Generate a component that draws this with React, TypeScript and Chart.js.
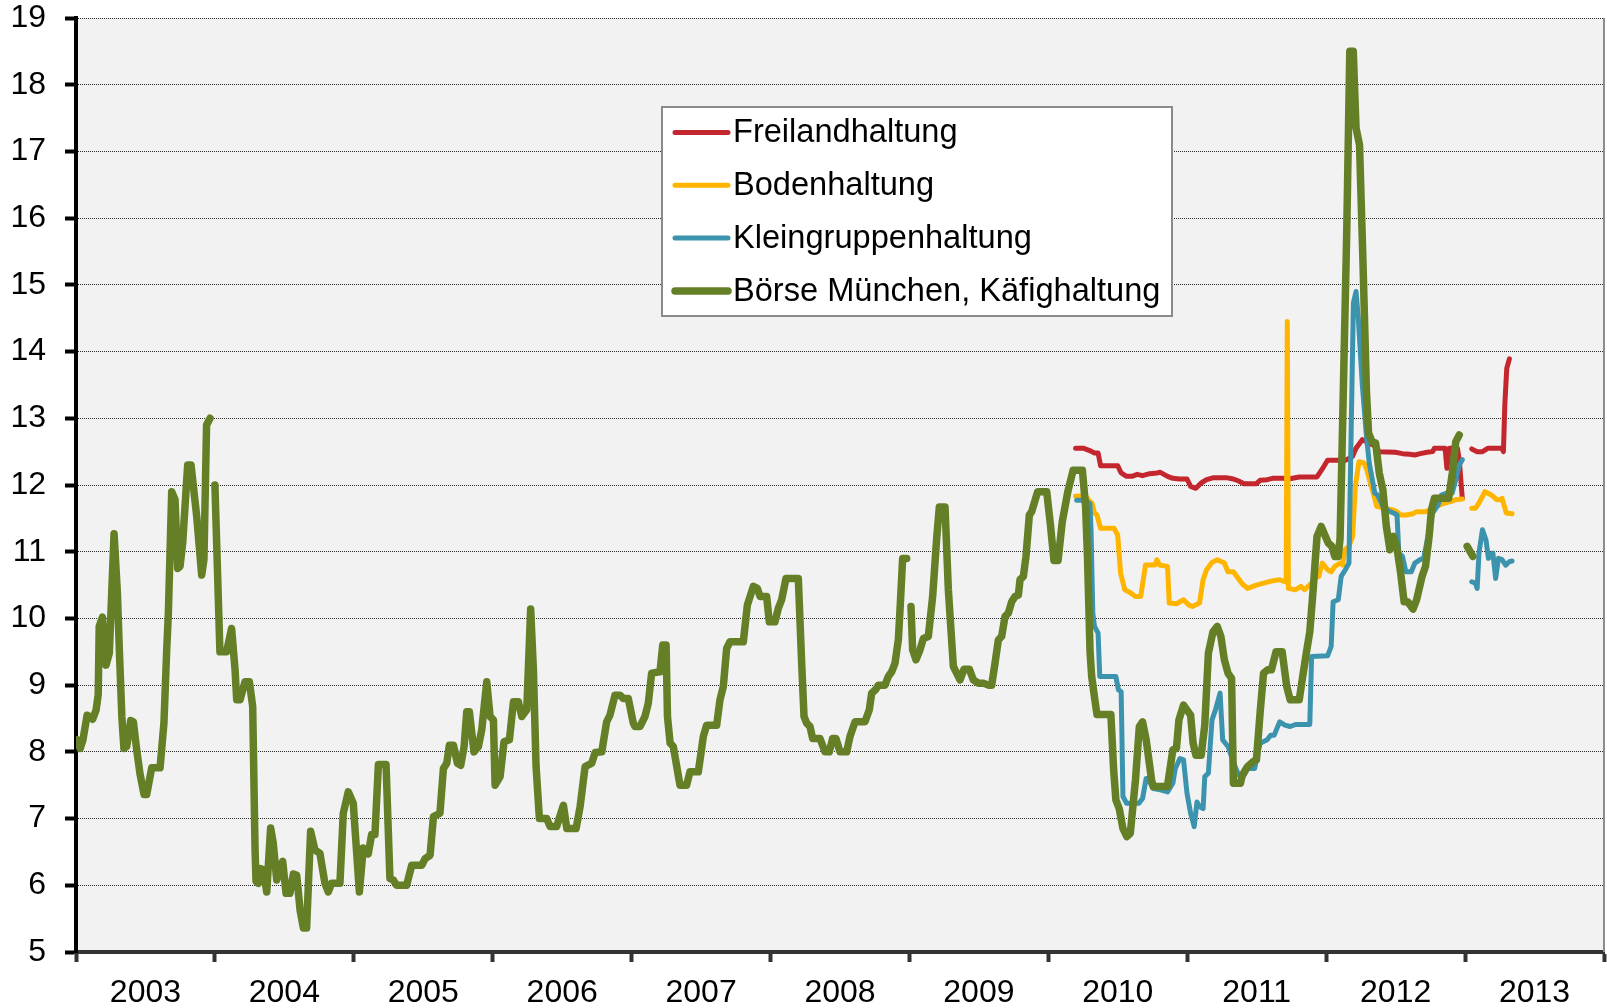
import React, { useEffect, useRef } from 'react';
import { Chart, registerables } from 'chart.js';

Chart.register(...registerables);

// ---------- data (x = fractional year, y = price) ----------
type Pt = [number, number | null];

const SERIES_LABELS = [
  'Freilandhaltung',
  'Bodenhaltung',
  'Kleingruppenhaltung',
  'Börse München, Käfighaltung',
];

const SERIES_COLORS = ['#C4262E', '#FFB400', '#3B93AD', '#657F27'];

const X_MIN = 2003;
const X_MAX = 2014;
const Y_MIN = 5;
const Y_MAX = 19;

const freiland: Pt[] = [
  [2010.196, 12.55], [2010.255, 12.55], [2010.293, 12.52], [2010.332, 12.48], [2010.358, 12.48],
  [2010.376, 12.29], [2010.499, 12.29], [2010.524, 12.18], [2010.563, 12.13], [2010.601, 12.13],
  [2010.64, 12.16], [2010.678, 12.14], [2010.73, 12.17], [2010.781, 12.18], [2010.806, 12.19],
  [2010.858, 12.13], [2010.896, 12.1], [2010.947, 12.09], [2010.998, 12.09], [2011.024, 11.98],
  [2011.062, 11.95], [2011.1, 12.03], [2011.139, 12.08], [2011.19, 12.11], [2011.28, 12.11],
  [2011.332, 12.09], [2011.37, 12.06], [2011.408, 12.02], [2011.498, 12.02], [2011.524, 12.07],
  [2011.575, 12.08], [2011.613, 12.1], [2011.703, 12.1], [2011.729, 12.09], [2011.806, 12.12],
  [2011.934, 12.12], [2011.972, 12.24], [2012.01, 12.37], [2012.138, 12.37], [2012.19, 12.43],
  [2012.215, 12.55], [2012.26, 12.68], [2012.305, 12.63], [2012.356, 12.58], [2012.382, 12.5],
  [2012.497, 12.49], [2012.549, 12.47], [2012.6, 12.46], [2012.638, 12.45], [2012.677, 12.47],
  [2012.727, 12.49], [2012.766, 12.5], [2012.779, 12.55], [2012.856, 12.55], [2012.869, 12.25],
  [2012.887, 12.55], [2012.945, 12.55], [2012.958, 12.38], [2012.98, 11.8],
  [2013.01, null],
  [2013.048, 12.54], [2013.087, 12.5], [2013.125, 12.5], [2013.163, 12.55], [2013.266, 12.55],
  [2013.276, 12.5], [2013.286, 13.2], [2013.3, 13.75], [2013.319, 13.89],
];

const boden: Pt[] = [
  [2010.196, 11.83], [2010.268, 11.84], [2010.299, 11.75], [2010.314, 11.73], [2010.332, 11.58],
  [2010.35, 11.55], [2010.376, 11.35], [2010.473, 11.35], [2010.499, 11.25], [2010.52, 10.68],
  [2010.55, 10.43], [2010.588, 10.39], [2010.627, 10.33], [2010.665, 10.33], [2010.699, 10.8],
  [2010.768, 10.8], [2010.781, 10.88], [2010.801, 10.8], [2010.858, 10.78], [2010.87, 10.23],
  [2010.922, 10.22], [2010.973, 10.28], [2011.011, 10.2], [2011.037, 10.18], [2011.088, 10.23],
  [2011.114, 10.58], [2011.139, 10.73], [2011.178, 10.84], [2011.216, 10.88], [2011.267, 10.83],
  [2011.293, 10.7], [2011.332, 10.7], [2011.357, 10.63], [2011.395, 10.52], [2011.434, 10.45],
  [2011.498, 10.5], [2011.549, 10.53], [2011.626, 10.57], [2011.665, 10.58], [2011.703, 10.55],
  [2011.712, 10.58], [2011.72, 14.45], [2011.728, 10.45], [2011.78, 10.43], [2011.818, 10.48],
  [2011.844, 10.43], [2011.895, 10.53], [2011.921, 10.6], [2011.946, 10.63], [2011.972, 10.83],
  [2012.01, 10.73], [2012.036, 10.7], [2012.062, 10.78], [2012.1, 10.83], [2012.118, 10.8],
  [2012.134, 11.03], [2012.164, 11.08], [2012.19, 11.23], [2012.21, 11.98], [2012.236, 12.35],
  [2012.272, 12.33], [2012.292, 12.23], [2012.318, 12.03], [2012.343, 11.85], [2012.364, 11.68],
  [2012.42, 11.65], [2012.472, 11.63], [2012.51, 11.6], [2012.535, 11.55], [2012.574, 11.55],
  [2012.625, 11.57], [2012.651, 11.6], [2012.715, 11.6], [2012.753, 11.63], [2012.779, 11.68],
  [2012.818, 11.7], [2012.856, 11.73], [2012.894, 11.75], [2012.933, 11.78], [2012.98, 11.79],
  [2013.01, null],
  [2013.048, 11.65], [2013.074, 11.65], [2013.1, 11.73], [2013.143, 11.9], [2013.189, 11.85],
  [2013.228, 11.78], [2013.253, 11.78], [2013.266, 11.8], [2013.297, 11.58], [2013.338, 11.57],
];

const kleingruppe: Pt[] = [
  [2010.204, 11.77], [2010.268, 11.77], [2010.299, 11.72], [2010.307, 11.33], [2010.32, 10.08],
  [2010.332, 9.88], [2010.358, 9.78], [2010.37, 9.13], [2010.486, 9.13], [2010.504, 8.93],
  [2010.524, 8.9], [2010.537, 7.33], [2010.563, 7.23], [2010.652, 7.23], [2010.678, 7.3],
  [2010.704, 7.6], [2010.717, 7.6], [2010.755, 7.45], [2010.806, 7.43], [2010.858, 7.4],
  [2010.896, 7.53], [2010.914, 7.75], [2010.947, 7.9], [2010.973, 7.88], [2010.998, 7.38],
  [2011.024, 7.08], [2011.05, 6.88], [2011.07, 7.25], [2011.088, 7.18], [2011.114, 7.15],
  [2011.126, 7.63], [2011.152, 7.68], [2011.178, 8.48], [2011.203, 8.63], [2011.236, 8.88],
  [2011.255, 8.18], [2011.293, 8.08], [2011.344, 7.78], [2011.37, 7.65], [2011.408, 7.65],
  [2011.434, 7.75], [2011.485, 7.75], [2011.524, 8.13], [2011.575, 8.18], [2011.6, 8.25],
  [2011.626, 8.25], [2011.665, 8.45], [2011.703, 8.4], [2011.741, 8.38], [2011.78, 8.41],
  [2011.882, 8.41], [2011.895, 9.43], [2012.01, 9.44], [2012.036, 9.58], [2012.05, 10.25],
  [2012.087, 10.28], [2012.108, 10.63], [2012.138, 10.73], [2012.164, 10.83], [2012.18, 12.83],
  [2012.196, 14.73], [2012.215, 14.9], [2012.232, 14.48], [2012.26, 13.5], [2012.29, 12.73],
  [2012.31, 12.33], [2012.35, 11.88], [2012.37, 11.85], [2012.408, 11.68], [2012.459, 11.6],
  [2012.485, 11.58], [2012.51, 11.55], [2012.523, 10.98], [2012.549, 10.93], [2012.574, 10.7],
  [2012.613, 10.7], [2012.638, 10.83], [2012.676, 10.88], [2012.702, 10.9], [2012.728, 11.18],
  [2012.766, 11.58], [2012.805, 11.7], [2012.83, 11.85], [2012.869, 11.88], [2012.907, 11.88],
  [2012.933, 12.08], [2012.958, 12.3], [2012.98, 12.38],
  [2013.01, null],
  [2013.048, 10.55], [2013.074, 10.53], [2013.087, 10.45], [2013.1, 10.98], [2013.125, 11.33],
  [2013.15, 11.18], [2013.168, 10.9], [2013.2, 10.98], [2013.22, 10.6], [2013.24, 10.9],
  [2013.266, 10.88], [2013.292, 10.8], [2013.318, 10.85], [2013.338, 10.86],
];

const boerse: Pt[] = [
  [2003.01, 8.18], [2003.03, 8.05], [2003.05, 8.18], [2003.08, 8.55], [2003.12, 8.49],
  [2003.145, 8.63], [2003.16, 8.86], [2003.167, 9.88], [2003.19, 10.02], [2003.216, 9.3],
  [2003.24, 9.48], [2003.274, 11.27], [2003.298, 10.38], [2003.312, 9.53], [2003.33, 8.53],
  [2003.345, 8.05], [2003.365, 8.08], [2003.394, 8.47], [2003.413, 8.45], [2003.437, 8.03],
  [2003.46, 7.68], [2003.49, 7.36], [2003.509, 7.36], [2003.545, 7.76], [2003.605, 7.76],
  [2003.633, 8.43], [2003.653, 9.53], [2003.665, 10.08], [2003.689, 11.9], [2003.713, 11.78],
  [2003.732, 10.75], [2003.749, 10.78], [2003.768, 11.13], [2003.804, 12.3], [2003.828, 12.3],
  [2003.869, 11.53], [2003.905, 10.65], [2003.921, 10.88], [2003.94, 12.9], [2003.965, 13.0],
  [2003.982, null],
  [2004.0, 12.0], [2004.036, 9.5], [2004.084, 9.5], [2004.12, 9.85], [2004.145, 9.23],
  [2004.157, 8.78], [2004.181, 8.78], [2004.217, 9.05], [2004.248, 9.05], [2004.272, 8.68],
  [2004.289, 6.53], [2004.296, 6.06], [2004.313, 6.03], [2004.33, 6.25], [2004.349, 6.23],
  [2004.373, 5.9], [2004.401, 6.86], [2004.42, 6.63], [2004.445, 6.08], [2004.464, 6.23],
  [2004.488, 6.36], [2004.512, 5.88], [2004.54, 5.88], [2004.565, 6.17], [2004.589, 6.15],
  [2004.613, 5.63], [2004.637, 5.36], [2004.66, 5.36], [2004.689, 6.81], [2004.72, 6.53],
  [2004.756, 6.48], [2004.792, 6.03], [2004.816, 5.9], [2004.84, 6.03], [2004.9, 6.03],
  [2004.924, 7.08], [2004.96, 7.4], [2004.996, 7.23], [2005.04, 5.9], [2005.068, 6.56],
  [2005.104, 6.47], [2005.128, 6.76], [2005.152, 6.76], [2005.177, 7.81], [2005.232, 7.81],
  [2005.26, 6.1], [2005.284, 6.08], [2005.308, 6.0], [2005.38, 6.0], [2005.417, 6.3],
  [2005.489, 6.3], [2005.513, 6.4], [2005.549, 6.45], [2005.573, 7.03], [2005.592, 7.05],
  [2005.62, 7.08], [2005.645, 7.75], [2005.669, 7.83], [2005.688, 8.1], [2005.717, 8.1],
  [2005.746, 7.83], [2005.77, 7.8], [2005.794, 8.08], [2005.813, 8.6], [2005.832, 8.6],
  [2005.865, 8.0], [2005.897, 8.08], [2005.921, 8.33], [2005.957, 9.05], [2005.981, 8.53],
  [2006.005, 8.48], [2006.017, 7.5], [2006.053, 7.63], [2006.081, 8.15], [2006.12, 8.18],
  [2006.149, 8.75], [2006.185, 8.75], [2006.209, 8.53], [2006.245, 8.63], [2006.273, 10.14],
  [2006.293, 9.23], [2006.312, 7.78], [2006.336, 7.0], [2006.389, 7.0], [2006.413, 6.88],
  [2006.46, 6.88], [2006.509, 7.2], [2006.533, 6.85], [2006.6, 6.85], [2006.629, 7.18],
  [2006.665, 7.78], [2006.713, 7.83], [2006.737, 7.99], [2006.785, 8.0], [2006.82, 8.45],
  [2006.844, 8.55], [2006.88, 8.85], [2006.916, 8.85], [2006.94, 8.8], [2006.976, 8.8],
  [2007.012, 8.43], [2007.024, 8.38], [2007.06, 8.38], [2007.096, 8.53], [2007.12, 8.73],
  [2007.144, 9.18], [2007.204, 9.2], [2007.224, 9.6], [2007.248, 9.6], [2007.258, 8.53],
  [2007.277, 8.13], [2007.3, 8.08], [2007.348, 7.5], [2007.396, 7.5], [2007.42, 7.7],
  [2007.48, 7.7], [2007.516, 8.23], [2007.54, 8.4], [2007.612, 8.4], [2007.636, 8.78],
  [2007.66, 8.98], [2007.684, 9.55], [2007.708, 9.65], [2007.804, 9.65], [2007.833, 10.2],
  [2007.876, 10.48], [2007.905, 10.45], [2007.924, 10.33], [2007.972, 10.33], [2007.991, 9.95],
  [2008.032, 9.95], [2008.056, 10.15], [2008.08, 10.28], [2008.111, 10.6], [2008.2, 10.6],
  [2008.224, 9.33], [2008.241, 8.53], [2008.26, 8.43], [2008.284, 8.38], [2008.303, 8.2],
  [2008.356, 8.2], [2008.392, 8.0], [2008.423, 8.0], [2008.447, 8.2], [2008.471, 8.2],
  [2008.5, 8.0], [2008.548, 8.0], [2008.572, 8.23], [2008.608, 8.45], [2008.68, 8.45],
  [2008.711, 8.63], [2008.728, 8.88], [2008.759, 8.94], [2008.776, 9.0], [2008.824, 9.0],
  [2008.848, 9.13], [2008.872, 9.2], [2008.896, 9.33], [2008.92, 9.68], [2008.932, 10.13],
  [2008.951, 10.9], [2008.98, 10.9],
  [2008.995, null],
  [2009.011, 10.18], [2009.023, 9.53], [2009.047, 9.38], [2009.076, 9.53], [2009.1, 9.7],
  [2009.136, 9.73], [2009.167, 10.33], [2009.196, 11.2], [2009.215, 11.67], [2009.256, 11.67],
  [2009.28, 10.43], [2009.316, 9.28], [2009.364, 9.08], [2009.393, 9.24], [2009.431, 9.24],
  [2009.46, 9.08], [2009.496, 9.03], [2009.532, 9.03], [2009.568, 9.0], [2009.592, 9.0],
  [2009.616, 9.33], [2009.64, 9.68], [2009.664, 9.73], [2009.688, 10.03], [2009.712, 10.08],
  [2009.736, 10.25], [2009.76, 10.33], [2009.784, 10.35], [2009.796, 10.58], [2009.82, 10.63],
  [2009.839, 10.93], [2009.863, 11.55], [2009.88, 11.6], [2009.923, 11.9], [2009.988, 11.9],
  [2010.015, 11.4], [2010.04, 10.87], [2010.07, 10.87], [2010.1, 11.45], [2010.14, 11.9],
  [2010.178, 12.22], [2010.245, 12.22], [2010.268, 11.68], [2010.282, 10.9], [2010.3, 9.5],
  [2010.312, 9.13], [2010.33, 8.85], [2010.35, 8.56], [2010.45, 8.56], [2010.47, 7.73],
  [2010.486, 7.28], [2010.51, 7.15], [2010.537, 6.85], [2010.565, 6.73], [2010.59, 6.78],
  [2010.627, 7.58], [2010.655, 8.38], [2010.678, 8.45], [2010.704, 8.18], [2010.743, 7.58],
  [2010.755, 7.48], [2010.857, 7.48], [2010.896, 8.03], [2010.922, 8.05], [2010.94, 8.48],
  [2010.973, 8.7], [2011.024, 8.55], [2011.042, 8.13], [2011.062, 7.95], [2011.1, 7.95],
  [2011.126, 8.4], [2011.152, 9.48], [2011.185, 9.8], [2011.216, 9.88], [2011.242, 9.73],
  [2011.267, 9.38], [2011.293, 9.18], [2011.319, 9.1], [2011.332, 7.53], [2011.383, 7.53],
  [2011.396, 7.65], [2011.434, 7.78], [2011.473, 7.85], [2011.498, 7.88], [2011.524, 8.58],
  [2011.549, 9.18], [2011.58, 9.23], [2011.606, 9.23], [2011.639, 9.5], [2011.683, 9.5],
  [2011.716, 8.98], [2011.741, 8.78], [2011.806, 8.78], [2011.831, 9.13], [2011.857, 9.48],
  [2011.882, 9.8], [2011.908, 10.48], [2011.934, 11.23], [2011.964, 11.38], [2011.99, 11.25],
  [2012.015, 11.13], [2012.041, 11.08], [2012.062, 10.93], [2012.087, 10.93], [2012.1, 11.2],
  [2012.115, 12.6], [2012.148, 15.8], [2012.17, 18.5], [2012.195, 18.5], [2012.215, 17.35],
  [2012.24, 17.1], [2012.265, 15.33], [2012.29, 13.4], [2012.305, 12.78], [2012.33, 12.65],
  [2012.356, 12.63], [2012.382, 12.18], [2012.408, 11.93], [2012.433, 11.38], [2012.459, 11.03],
  [2012.485, 11.23], [2012.51, 11.05], [2012.536, 10.68], [2012.561, 10.25], [2012.587, 10.25],
  [2012.625, 10.14], [2012.651, 10.28], [2012.69, 10.63], [2012.715, 10.78], [2012.741, 11.23],
  [2012.758, 11.63], [2012.779, 11.8], [2012.882, 11.8], [2012.908, 12.18], [2012.933, 12.65],
  [2012.958, 12.75],
  [2012.99, null],
  [2013.015, 11.08], [2013.056, 10.93],
];

const SERIES_DATA: Pt[][] = [freiland, boden, kleingruppe, boerse];
const SERIES_WIDTHS = [5, 5, 5, 7.5];
const SERIES_ORDER = [4, 3, 2, 1]; // green drawn on top

const FONT = '"Liberation Sans", Arial, Helvetica, sans-serif';

// ---------- plugins ----------
const plotBackground = {
  id: 'plotBackground',
  beforeDraw(chart: any) {
    const { ctx, chartArea } = chart;
    ctx.save();
    ctx.fillStyle = '#F2F2F2';
    ctx.fillRect(chartArea.left, chartArea.top, chartArea.right - chartArea.left, chartArea.bottom - chartArea.top);
    ctx.restore();
  },
  afterDraw(chart: any) {
    const { ctx, chartArea } = chart;
    ctx.save();
    ctx.strokeStyle = '#8C8C8C';
    ctx.lineWidth = 2;
    ctx.beginPath();
    ctx.moveTo(chartArea.right, chartArea.top);
    ctx.lineTo(chartArea.right, chartArea.bottom);
    ctx.stroke();
    ctx.restore();
  },
};

const boxLegend = {
  id: 'boxLegend',
  afterDraw(chart: any) {
    const { ctx } = chart;
    const x0 = 662;
    const y0 = 107;
    const w = 510;
    const h = 209;
    ctx.save();
    ctx.fillStyle = '#FFFFFF';
    ctx.fillRect(x0, y0, w, h);
    ctx.strokeStyle = '#8A8A8A';
    ctx.lineWidth = 2;
    ctx.strokeRect(x0, y0, w, h);
    chart.data.datasets.forEach((ds: any, i: number) => {
      const y = 132.5 + i * 52.8;
      ctx.strokeStyle = ds.borderColor;
      ctx.lineWidth = ds.borderWidth;
      ctx.lineCap = 'round';
      ctx.beginPath();
      ctx.moveTo(675, y);
      ctx.lineTo(728, y);
      ctx.stroke();
      ctx.fillStyle = '#000';
      ctx.font = `32.6px ${FONT}`;
      ctx.textBaseline = 'middle';
      ctx.textAlign = 'left';
      ctx.fillText(ds.label, 733, y + 1);
    });
    ctx.restore();
  },
};

export default function App() {
  const ref = useRef<HTMLCanvasElement | null>(null);

  useEffect(() => {
    if (!ref.current) return;
    const datasets = SERIES_LABELS.map((label, i) => ({
      label,
      data: SERIES_DATA[i].map(([x, y]) => ({ x, y })),
      borderColor: SERIES_COLORS[i],
      backgroundColor: SERIES_COLORS[i],
      borderWidth: SERIES_WIDTHS[i],
      order: SERIES_ORDER[i],
      pointRadius: 0,
      pointHoverRadius: 0,
      tension: 0,
      spanGaps: false,
      fill: false,
      borderJoinStyle: 'round' as const,
      borderCapStyle: 'round' as const,
    }));

    const chart = new Chart(ref.current, {
      type: 'line',
      data: { datasets },
      plugins: [plotBackground, boxLegend],
      options: {
        animation: false,
        responsive: false,
        devicePixelRatio: 1,
        layout: { autoPadding: false, padding: { left: 0, top: 18, right: 3, bottom: 0 } },
        plugins: {
          legend: { display: false },
          tooltip: { enabled: false },
        },
        scales: {
          x: {
            type: 'linear',
            min: X_MIN,
            max: X_MAX,
            afterFit: (s: any) => {
              s.height = 56;
              s.paddingLeft = 0;
              s.paddingRight = 0;
            },
            ticks: {
              stepSize: 1,
              autoSkip: false,
              maxRotation: 0,
              labelOffset: (1604 - 76) / 22,
              padding: 12,
              color: '#000',
              font: { family: FONT, size: 32 },
              callback: (v: any) => (Number(v) >= X_MAX ? '' : String(v)),
            },
            grid: {
              display: true,
              drawOnChartArea: false,
              drawTicks: true,
              tickLength: 10,
              tickWidth: 4,
              tickColor: '#333333',
            },
            border: { display: true, color: '#333333', width: 4 },
          },
          y: {
            type: 'linear',
            min: Y_MIN,
            max: Y_MAX,
            afterFit: (s: any) => {
              s.width = 76;
              s.paddingTop = 0;
              s.paddingBottom = 0;
            },
            ticks: {
              stepSize: 1,
              padding: 19,
              color: '#000',
              font: { family: FONT, size: 32 },
            },
            grid: {
              display: true,
              drawOnChartArea: true,
              drawTicks: true,
              color: '#2A2A2A',
              lineWidth: 1,
              tickLength: 11,
              tickWidth: 4,
              tickColor: '#000000',
              tickBorderDash: [],
            },
            border: { display: true, color: '#000000', width: 4, dash: [1, 1] },
          },
        },
      } as any,
    });
    return () => chart.destroy();
  }, []);

  return (
    <div style={{ position: 'fixed', left: 0, top: 0, width: 1607, height: 1008, background: '#FFFFFF' }}>
      <canvas ref={ref} width={1607} height={1008} style={{ display: 'block', width: 1607, height: 1008 }} />
    </div>
  );
}
